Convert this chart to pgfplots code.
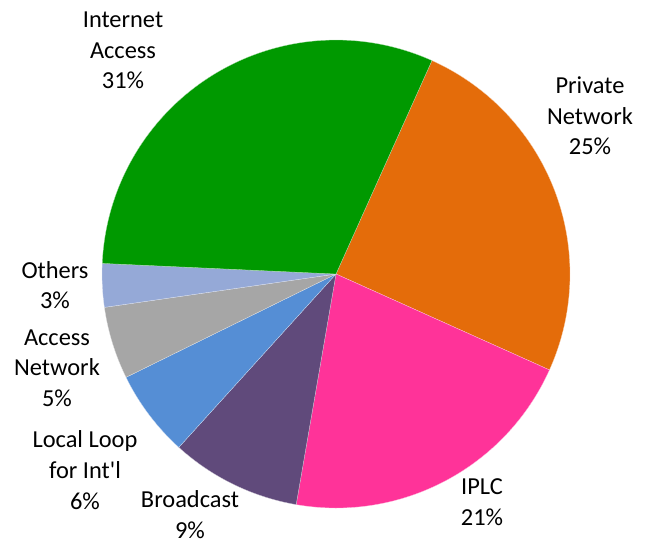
\documentclass[border=0pt]{standalone}
\usepackage{fontspec}
\setmainfont{Carlito}[Ligatures=TeXOff]
\usepackage{pgfplots}
\usepackage{pgfplotstable}
\pgfplotsset{compat=1.18}

\definecolor{cInternet}{HTML}{009900}
\definecolor{cPrivate}{HTML}{E46C0A}
\definecolor{cIPLC}{HTML}{FF3399}
\definecolor{cBroad}{HTML}{604A7B}
\definecolor{cLoop}{HTML}{558ED5}
\definecolor{cAccess}{HTML}{A6A6A6}
\definecolor{cOthers}{HTML}{95A9D7}

% share in percent, clockwise from the top right
\pgfplotstableread{
name     value color
Private  25    cPrivate
IPLC     21    cIPLC
Broad    9     cBroad
Loop     6     cLoop
Access   5     cAccess
Others   3     cOthers
Internet 31    cInternet
}\piedata

\begin{document}
\begin{tikzpicture}
\pgfplotstablegetrowsof{\piedata}
\pgfmathtruncatemacro\lastrow{\pgfplotsretval-1}
\begin{axis}[
  x=0.75pt, y=0.75pt,
  xmin=0, xmax=645, ymin=0, ymax=543,
  scale only axis, hide axis, clip=false,
]
\path (axis cs:0,0) rectangle (axis cs:645,543);
\def\cur{65.8}
\pgfplotsforeachungrouped \i in {0,...,\lastrow}{%
  \pgfplotstablegetelem{\i}{value}\of\piedata \let\v\pgfplotsretval
  \pgfplotstablegetelem{\i}{color}\of\piedata \let\c\pgfplotsretval
  \pgfmathsetmacro\nxt{\cur-3.6*\v}%
  \edef\temp{\noexpand\filldraw[fill=\c, draw=white!70!\c, line width=0.2pt]
    (axis cs:336,269) -- ++(\cur:175.5pt)
    arc[start angle=\cur, end angle=\nxt, radius=175.5pt] -- cycle;}%
  \temp
  \global\let\cur\nxt
}

\tikzset{lbl/.style={align=center, inner sep=0pt, font=\fontsize{18.3}{23}\selectfont}}
\node[lbl] at (axis cs:123,492.5) {Internet\\Access\\31\%};
\node[lbl] at (axis cs:590,427) {Private\\Network\\25\%};
\node[lbl] at (axis cs:482,41) {IPLC\\21\%};
\node[lbl] at (axis cs:190,28.5) {Broadcast\\9\%};
\node[lbl] at (axis cs:85,73) {Local Loop\\for Int'l\\6\%};
\node[lbl] at (axis cs:57,175) {Access\\Network\\5\%};
\node[lbl] at (axis cs:55,258) {Others\\3\%};
\end{axis}
\end{tikzpicture}
\end{document}
